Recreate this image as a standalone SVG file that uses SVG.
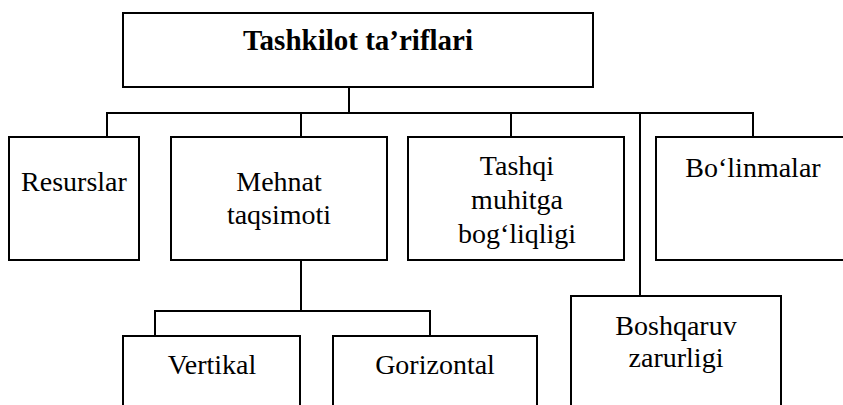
<svg xmlns="http://www.w3.org/2000/svg" width="843" height="405" viewBox="0 0 843 405">
<style>
  .box { fill: #fff; stroke: #000; stroke-width: 2; }
  .conn line { stroke: #000; stroke-width: 2; }
  .t { font-family: 'Liberation Serif', 'DejaVu Serif', serif; font-size: 28px; fill: #000; text-anchor: middle; }
  .title { font-weight: bold; font-size: 29px; }
</style>
<rect width="843" height="405" fill="#fff"/>
<g id="connectors" class="conn">
  <line x1="349" y1="87" x2="349" y2="113"/>
  <line x1="106" y1="113" x2="754" y2="113"/>
  <line x1="107" y1="113" x2="107" y2="137"/>
  <line x1="301" y1="113" x2="301" y2="137"/>
  <line x1="511" y1="113" x2="511" y2="137"/>
  <line x1="640" y1="113" x2="640" y2="296"/>
  <line x1="753" y1="113" x2="753" y2="137"/>
  <line x1="301" y1="260" x2="301" y2="311"/>
  <line x1="154" y1="311" x2="431" y2="311"/>
  <line x1="155" y1="311" x2="155" y2="336"/>
  <line x1="430" y1="311" x2="430" y2="336"/>
</g>
<g id="root">
  <rect class="box" x="123" y="13" width="470" height="74"/>
  <text class="t title" font-family="Liberation Serif" x="358" y="50">Tashkilot ta’riflari</text>
</g>
<g id="resurslar">
  <rect class="box" x="9" y="137" width="130" height="123"/>
  <text class="t" font-family="Liberation Serif" x="74" y="191">Resurslar</text>
</g>
<g id="mehnat">
  <rect class="box" x="171" y="137" width="216" height="123"/>
  <text class="t" font-family="Liberation Serif" x="279" y="191">Mehnat</text>
  <text class="t" font-family="Liberation Serif" x="279" y="224">taqsimoti</text>
</g>
<g id="tashqi">
  <rect class="box" x="408" y="137" width="216" height="123"/>
  <text class="t" font-family="Liberation Serif" x="517" y="175">Tashqi</text>
  <text class="t" font-family="Liberation Serif" x="517" y="209">muhitga</text>
  <text class="t" font-family="Liberation Serif" x="517" y="243">bog‘liqligi</text>
</g>
<g id="bolinmalar">
  <rect class="box" x="656" y="137" width="200" height="123"/>
  <text class="t" font-family="Liberation Serif" x="753" y="177">Bo‘linmalar</text>
</g>
<g id="boshqaruv">
  <rect class="box" x="571" y="296" width="210" height="130"/>
  <text class="t" font-family="Liberation Serif" x="676" y="335">Boshqaruv</text>
  <text class="t" font-family="Liberation Serif" x="676" y="367">zarurligi</text>
</g>
<g id="vertikal">
  <rect class="box" x="123" y="336" width="177" height="90"/>
  <text class="t" font-family="Liberation Serif" x="212" y="374">Vertikal</text>
</g>
<g id="gorizontal">
  <rect class="box" x="333" y="336" width="204" height="90"/>
  <text class="t" font-family="Liberation Serif" x="435" y="374">Gorizontal</text>
</g>
</svg>
